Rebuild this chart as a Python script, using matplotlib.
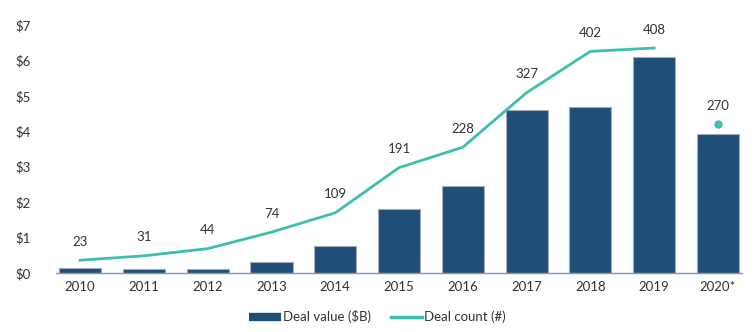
import numpy as np
import matplotlib.pyplot as plt
from matplotlib.lines import Line2D

plt.rcParams['font.family'] = ['Lato', 'DejaVu Sans']

years = ["2010", "2011", "2012", "2013", "2014", "2015", "2016", "2017", "2018", "2019", "2020*"]
deal_value = [0.15, 0.10, 0.10, 0.30, 0.75, 1.80, 2.45, 4.60, 4.67, 6.10, 3.93]
deal_count = [23, 31, 44, 74, 109, 191, 228, 327, 402, 408, 270]

bar_color = "#1f4e79"
line_color = "#3dbfad"
text_color = "#333333"

fig = plt.figure(figsize=(7.55, 3.32), dpi=100)
ax = fig.add_axes([0.074, 0.178, 0.909, 0.747])
x = np.arange(len(years))

ax.bar(x, deal_value, width=0.66, color=bar_color, edgecolor="#a3abb9",
       linewidth=0.8, zorder=2)
ax.set_ylim(0, 7)
ax.set_xlim(-0.38, len(years) - 0.62)
ax.set_yticks(range(8))
ax.set_yticklabels(["$%d" % v for v in range(8)])
ax.set_xticks(x)
ax.set_xticklabels(years)
ax.tick_params(length=0, colors=text_color, labelsize=9.5)
ax.tick_params(axis="y", pad=18)
ax.tick_params(axis="x", pad=6)
for s in ["top", "right", "left"]:
    ax.spines[s].set_visible(False)
ax.spines["bottom"].set_color("#8a93a3")
ax.spines["bottom"].set_linewidth(1.0)

ax2 = ax.twinx()
ax2.set_ylim(0, 450)
ax2.axis("off")
ax2.plot(x[:-1], deal_count[:-1], color=line_color, linewidth=2, zorder=3)
ax2.plot(x[-1], deal_count[-1], "o", color=line_color, markersize=5)
for xi, c in zip(x, deal_count):
    ax2.annotate(str(c), (xi, c), xytext=(0, 9), textcoords="offset points",
                 ha="center", va="bottom", fontsize=9.5, color=text_color)

handles = [Line2D([], [], color=bar_color, linewidth=6, solid_capstyle="butt"),
           Line2D([], [], color=line_color, linewidth=2.5)]
fig.legend(handles, ["Deal value ($B)", "Deal count (#)"], loc="lower center",
           bbox_to_anchor=(0.5, -0.01), ncol=2, frameon=False, fontsize=9.5,
           handlelength=2.4, handletextpad=0.15, columnspacing=1.5,
           labelcolor=text_color)

fig.savefig("out.png", dpi=100)
